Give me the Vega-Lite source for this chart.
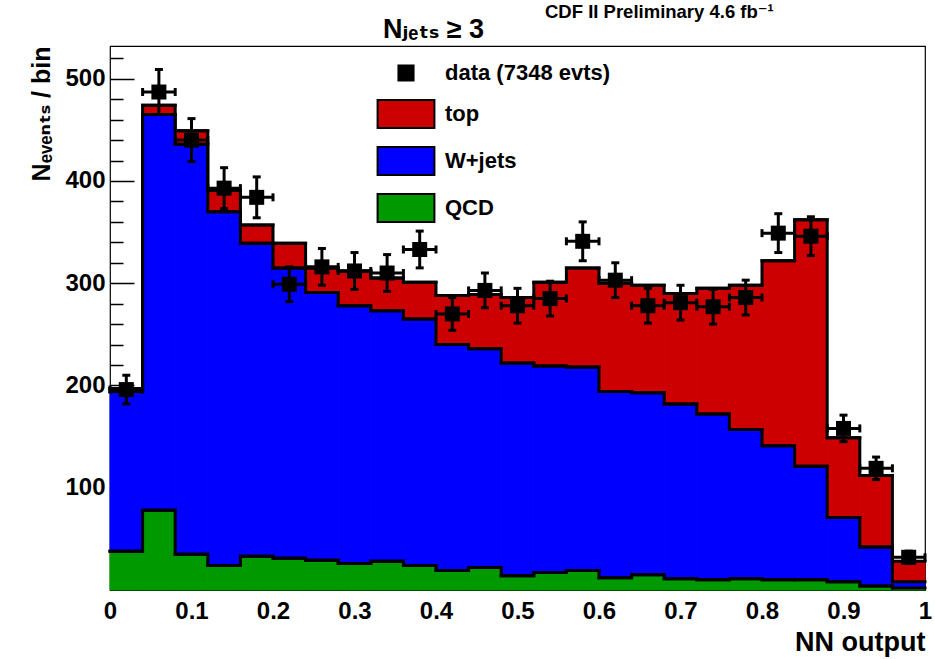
{
  "$schema": "https://vega.github.io/schema/vega-lite/v6.json",
  "width": 815,
  "height": 544,
  "autosize": {"type": "none"},
  "padding": {"left": 110, "top": 46, "right": 10, "bottom": 69},
  "background": "white",
  "config": {
    "view": {"stroke": "black", "strokeWidth": 1.2},
    "font": "Liberation Sans"
  },
  "title": {
    "text": "CDF II Preliminary 4.6 fb⁻¹",
    "anchor": "start",
    "frame": "group",
    "dx": 435,
    "offset": -21,
    "baseline": "alphabetic",
    "font": "Liberation Sans, DejaVu Sans",
    "fontSize": 18.5,
    "fontWeight": "bold",
    "color": "black"
  },
  "data": {
    "values": [
      {"lo": 0.00, "hi": 0.04, "mid": 0.02, "QCD": 38, "W+jets": 156, "top": 3, "data": 196, "dlo": 182, "dhi": 210},
      {"lo": 0.04, "hi": 0.08, "mid": 0.06, "QCD": 78, "W+jets": 387, "top": 9, "data": 487, "dlo": 465, "dhi": 509},
      {"lo": 0.08, "hi": 0.12, "mid": 0.10, "QCD": 35, "W+jets": 401, "top": 13, "data": 440, "dlo": 419, "dhi": 461},
      {"lo": 0.12, "hi": 0.16, "mid": 0.14, "QCD": 24, "W+jets": 346, "top": 21, "data": 393, "dlo": 373, "dhi": 413},
      {"lo": 0.16, "hi": 0.20, "mid": 0.18, "QCD": 33, "W+jets": 306, "top": 18, "data": 384, "dlo": 364, "dhi": 404},
      {"lo": 0.20, "hi": 0.24, "mid": 0.22, "QCD": 31, "W+jets": 284, "top": 24, "data": 299, "dlo": 282, "dhi": 316},
      {"lo": 0.24, "hi": 0.28, "mid": 0.26, "QCD": 29, "W+jets": 262, "top": 24, "data": 316, "dlo": 298, "dhi": 334},
      {"lo": 0.28, "hi": 0.32, "mid": 0.30, "QCD": 26, "W+jets": 252, "top": 34, "data": 312, "dlo": 294, "dhi": 330},
      {"lo": 0.32, "hi": 0.36, "mid": 0.34, "QCD": 28, "W+jets": 245, "top": 32, "data": 310, "dlo": 292, "dhi": 328},
      {"lo": 0.36, "hi": 0.40, "mid": 0.38, "QCD": 24, "W+jets": 241, "top": 36, "data": 333, "dlo": 315, "dhi": 351},
      {"lo": 0.40, "hi": 0.44, "mid": 0.42, "QCD": 19, "W+jets": 221, "top": 48, "data": 270, "dlo": 254, "dhi": 286},
      {"lo": 0.44, "hi": 0.48, "mid": 0.46, "QCD": 22, "W+jets": 214, "top": 53, "data": 293, "dlo": 276, "dhi": 310},
      {"lo": 0.48, "hi": 0.52, "mid": 0.50, "QCD": 14, "W+jets": 208, "top": 64, "data": 278, "dlo": 261, "dhi": 295},
      {"lo": 0.52, "hi": 0.56, "mid": 0.54, "QCD": 17, "W+jets": 202, "top": 82, "data": 285, "dlo": 268, "dhi": 302},
      {"lo": 0.56, "hi": 0.60, "mid": 0.58, "QCD": 19, "W+jets": 199, "top": 97, "data": 341, "dlo": 322, "dhi": 360},
      {"lo": 0.60, "hi": 0.64, "mid": 0.62, "QCD": 12, "W+jets": 182, "top": 106, "data": 303, "dlo": 286, "dhi": 320},
      {"lo": 0.64, "hi": 0.68, "mid": 0.66, "QCD": 15, "W+jets": 178, "top": 105, "data": 278, "dlo": 261, "dhi": 295},
      {"lo": 0.68, "hi": 0.72, "mid": 0.70, "QCD": 11, "W+jets": 171, "top": 108, "data": 281, "dlo": 264, "dhi": 298},
      {"lo": 0.72, "hi": 0.76, "mid": 0.74, "QCD": 10, "W+jets": 162, "top": 123, "data": 277, "dlo": 260, "dhi": 294},
      {"lo": 0.76, "hi": 0.80, "mid": 0.78, "QCD": 11, "W+jets": 146, "top": 141, "data": 286, "dlo": 269, "dhi": 303},
      {"lo": 0.80, "hi": 0.84, "mid": 0.82, "QCD": 10, "W+jets": 131, "top": 181, "data": 349, "dlo": 330, "dhi": 368},
      {"lo": 0.84, "hi": 0.88, "mid": 0.86, "QCD": 10, "W+jets": 111, "top": 241, "data": 346, "dlo": 327, "dhi": 365},
      {"lo": 0.88, "hi": 0.92, "mid": 0.90, "QCD": 8, "W+jets": 63, "top": 78, "data": 158, "dlo": 145, "dhi": 171},
      {"lo": 0.92, "hi": 0.96, "mid": 0.94, "QCD": 4, "W+jets": 38, "top": 70, "data": 119, "dlo": 108, "dhi": 130},
      {"lo": 0.96, "hi": 1.00, "mid": 0.98, "QCD": 2, "W+jets": 6, "top": 20, "data": 32, "dlo": 26, "dhi": 38}
    ]
  },
  "layer": [
    {
      "transform": [
        {"fold": ["QCD", "W+jets", "top"], "as": ["key", "value"]},
        {"stack": "value", "groupby": ["lo"], "sort": [{"field": "key", "order": "ascending"}], "as": ["v0", "v1"]}
      ],
      "mark": {"type": "rect", "strokeWidth": 1, "strokeOpacity": 1},
      "encoding": {
        "x": {
          "field": "lo", "type": "quantitative",
          "scale": {"domain": [0, 1], "nice": false, "zero": false},
          "axis": {
            "orient": "bottom",
            "values": [0, 0.1, 0.2, 0.3, 0.4, 0.5, 0.6, 0.7, 0.8, 0.9, 1],
            "format": "~g",
            "ticks": false, "domain": false, "grid": false,
            "labelPadding": 9, "labelFlush": false,
            "labelFont": "Liberation Sans", "labelFontSize": 24, "labelFontWeight": "bold", "labelColor": "black",
            "title": "NN output",
            "titleFont": "Liberation Sans", "titleFontSize": 27, "titleFontWeight": "bold", "titleColor": "black",
            "titleX": 815, "titleY": 60, "titleAlign": "right", "titleBaseline": "alphabetic", "titleAngle": 0
          }
        },
        "x2": {"field": "hi"},
        "y": {
          "field": "v0", "type": "quantitative",
          "scale": {"domain": [0, 532], "nice": false},
          "axis": {
            "orient": "left",
            "values": [100, 200, 300, 400, 500],
            "tickSize": -24, "tickWidth": 1.5, "tickColor": "black",
            "domain": false, "grid": false,
            "labelPadding": 29,
            "labelFont": "Liberation Sans", "labelFontSize": 24, "labelFontWeight": "bold", "labelColor": "black",
            "title": "Nₑᵥₑₙₜₛ / bin",
            "titleFont": "Liberation Sans, DejaVu Sans", "titleFontSize": 25, "titleFontWeight": "bold", "titleColor": "black",
            "titleX": -61, "titleY": 0, "titleAngle": -90, "titleAlign": "right", "titleBaseline": "alphabetic"
          }
        },
        "y2": {"field": "v1"},
        "stroke": {
          "field": "key", "type": "nominal",
          "scale": {
            "domain": ["top", "W+jets", "QCD"],
            "range": ["#cc0000", "#0000ff", "#009900"]
          },
          "legend": null
        },
        "color": {
          "field": "key", "type": "nominal",
          "scale": {
            "domain": ["data (7348 evts)", "top", "W+jets", "QCD"],
            "range": ["#000000", "#cc0000", "#0000ff", "#009900"]
          },
          "legend": {
            "orient": "none", "legendX": 281, "legendY": 12,
            "title": null,
            "symbolSize": 784, "symbolOpacity": 1,
            "symbolStrokeColor": "black", "symbolStrokeWidth": 2,
            "labelOffset": 24, "rowPadding": 11,
            "labelFont": "Liberation Sans", "labelFontSize": 22, "labelFontWeight": "bold", "labelColor": "black", "labelLimit": 400,
            "encode": {
              "symbols": {
                "update": {
                  "shape": {"signal": "datum.value === 'data (7348 evts)' ? 'M-0.54,-0.54H0.54V0.54H-0.54Z' : 'M-2.03,-1H2.03V1H-2.03Z'"},
                  "stroke": {"value": "black"},
                  "strokeWidth": {"value": 2}
                }
              }
            }
          }
        }
      }
    },
    {
      "transform": [
        {"fold": ["QCD", "W+jets", "top"], "as": ["key", "value"]},
        {"stack": "value", "groupby": ["lo"], "sort": [{"field": "key", "order": "ascending"}], "as": ["v0", "v1"]}
      ],
      "mark": {"type": "line", "interpolate": "step-after", "color": "black", "strokeWidth": 3, "strokeCap": "square", "strokeJoin": "miter"},
      "encoding": {
        "x": {"field": "lo", "type": "quantitative", "scale": {"domain": [0, 1], "nice": false, "zero": false}, "axis": null},
        "y": {"field": "v1", "type": "quantitative", "scale": {"domain": [0, 532], "nice": false}, "axis": null},
        "detail": {"field": "key", "type": "nominal"}
      }
    },
    {
      "transform": [
        {"fold": ["QCD", "W+jets", "top"], "as": ["key", "value"]},
        {"stack": "value", "groupby": ["lo"], "sort": [{"field": "key", "order": "ascending"}], "as": ["v0", "v1"]}
      ],
      "mark": {"type": "rule", "color": "black", "strokeWidth": 3, "strokeCap": "square"},
      "encoding": {
        "x": {"field": "lo", "type": "quantitative", "scale": {"domain": [0, 1], "nice": false, "zero": false}, "axis": null},
        "x2": {"field": "hi"},
        "y": {"field": "v1", "type": "quantitative", "scale": {"domain": [0, 532], "nice": false}, "axis": null}
      }
    },
    {
      "mark": {"type": "rule", "color": "black", "strokeWidth": 3},
      "encoding": {
        "x": {
          "field": "lo", "type": "quantitative",
          "scale": {"domain": [0, 1], "nice": false, "zero": false},
          "axis": {
            "orient": "top", "labels": false, "ticks": false, "domain": false, "grid": false,
            "title": "Nⱼₑₜₛ ≥ 3",
            "titleFont": "Liberation Sans, DejaVu Sans", "titleFontSize": 27, "titleFontWeight": "bold", "titleColor": "black",
            "titleX": 323, "titleY": -9, "titleAlign": "center", "titleBaseline": "alphabetic", "titleAngle": 0, "titlePadding": 0
          }
        },
        "x2": {"field": "hi"},
        "y": {
          "field": "data", "type": "quantitative",
          "scale": {"domain": [0, 532], "nice": false},
          "axis": {
            "orient": "left",
            "values": [20, 40, 60, 80, 120, 140, 160, 180, 220, 240, 260, 280, 320, 340, 360, 380, 420, 440, 460, 480, 520],
            "tickSize": -13, "tickWidth": 1.5, "tickColor": "black",
            "labels": false, "domain": false, "grid": false, "title": null
          }
        }
      }
    },
    {
      "mark": {"type": "rule", "color": "black", "strokeWidth": 3},
      "encoding": {
        "x": {"field": "mid", "type": "quantitative", "scale": {"domain": [0, 1], "nice": false, "zero": false}, "axis": null},
        "y": {"field": "dlo", "type": "quantitative", "scale": {"domain": [0, 532], "nice": false}, "axis": null},
        "y2": {"field": "dhi"}
      }
    },
    {
      "mark": {"type": "tick", "orient": "horizontal", "size": 8, "thickness": 3, "color": "black", "opacity": 1},
      "encoding": {
        "x": {"field": "mid", "type": "quantitative", "scale": {"domain": [0, 1], "nice": false, "zero": false}, "axis": null},
        "y": {"field": "dlo", "type": "quantitative", "scale": {"domain": [0, 532], "nice": false}, "axis": null}
      }
    },
    {
      "mark": {"type": "tick", "orient": "horizontal", "size": 8, "thickness": 3, "color": "black", "opacity": 1},
      "encoding": {
        "x": {"field": "mid", "type": "quantitative", "scale": {"domain": [0, 1], "nice": false, "zero": false}, "axis": null},
        "y": {"field": "dhi", "type": "quantitative", "scale": {"domain": [0, 532], "nice": false}, "axis": null}
      }
    },
    {
      "mark": {"type": "tick", "orient": "vertical", "size": 8, "thickness": 3, "color": "black", "opacity": 1},
      "encoding": {
        "x": {"field": "lo", "type": "quantitative", "scale": {"domain": [0, 1], "nice": false, "zero": false}, "axis": null},
        "y": {"field": "data", "type": "quantitative", "scale": {"domain": [0, 532], "nice": false}, "axis": null}
      }
    },
    {
      "mark": {"type": "tick", "orient": "vertical", "size": 8, "thickness": 3, "color": "black", "opacity": 1},
      "encoding": {
        "x": {"field": "hi", "type": "quantitative", "scale": {"domain": [0, 1], "nice": false, "zero": false}, "axis": null},
        "y": {"field": "data", "type": "quantitative", "scale": {"domain": [0, 532], "nice": false}, "axis": null}
      }
    },
    {
      "mark": {"type": "point", "shape": "square", "filled": true, "size": 225, "opacity": 1},
      "encoding": {
        "x": {"field": "mid", "type": "quantitative", "scale": {"domain": [0, 1], "nice": false, "zero": false}, "axis": null},
        "y": {"field": "data", "type": "quantitative", "scale": {"domain": [0, 532], "nice": false}, "axis": null},
        "color": {"datum": "data (7348 evts)"}
      }
    }
  ],
  "resolve": {"axis": {"x": "independent", "y": "independent"}}
}
